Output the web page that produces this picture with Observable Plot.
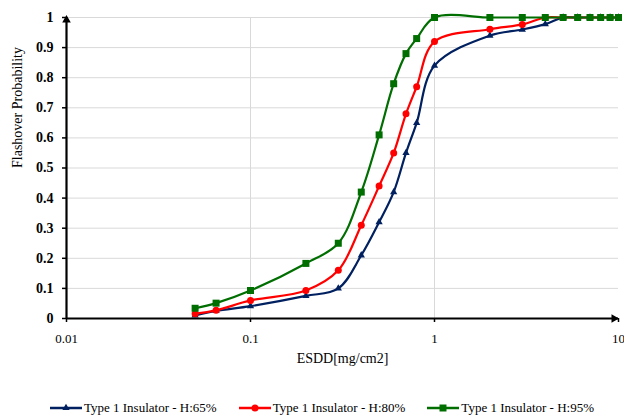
<!DOCTYPE html>
<html>
<head>
<meta charset="utf-8">
<script src="https://cdn.jsdelivr.net/npm/d3@7"></script>
<script src="https://cdn.jsdelivr.net/npm/@observablehq/plot@0.6"></script>
<style>
  html, body { margin: 0; padding: 0; background: #fff; }
  #wrap { position: relative; width: 624px; height: 420px; overflow: hidden; font-family: "Liberation Serif", Tinos, "Times New Roman", Times, "DejaVu Serif", serif; }
  #legend { position: absolute; left: 10px; top: 399px; width: 624px; height: 18px; display: flex; justify-content: center; align-items: center; gap: 22px; font-size: 13px; color: #000; }
  .item { display: flex; align-items: center; gap: 2px; white-space: nowrap; }
</style>
</head>
<body>
<div id="wrap"><div id="chart"></div><div id="legend"></div></div>
<script>
// ESDD values (mg/cm2)
const esdd = [0.05, 0.065, 0.1, 0.2, 0.3, 0.4, 0.5, 0.6, 0.7, 0.8, 1, 2, 3, 4, 5, 6, 7, 8, 9, 10];
// Flashover probability per series
const h65 = [0.01, 0.025, 0.041, 0.075, 0.10, 0.21, 0.32, 0.42, 0.55, 0.65, 0.84, 0.94, 0.96, 0.978, 1, 1, 1, 1, 1, 1];
const h80 = [0.016, 0.027, 0.06, 0.093, 0.16, 0.31, 0.44, 0.55, 0.68, 0.77, 0.92, 0.961, 0.977, 1, 1, 1, 1, 1, 1, 1];
const h95 = [0.034, 0.051, 0.093, 0.183, 0.25, 0.42, 0.61, 0.78, 0.88, 0.93, 1, 1, 1, 1, 1, 1, 1, 1, 1, 1];
const seriesNames = ["Type 1 Insulator - H:65%", "Type 1 Insulator - H:80%", "Type 1 Insulator - H:95%"];
const seriesColors = ["#002060", "#ff0000", "#006e00"];
const seriesSymbols = ["triangle", "circle", "square"];
const yTicks = [0, 0.1, 0.2, 0.3, 0.4, 0.5, 0.6, 0.7, 0.8, 0.9, 1];
const xTicks = [0.01, 0.1, 1, 10];
const xTickLabels = ["0.01", "0.1", "1", "10"];
const xGrid = [0.1, 1];
const xTitle = "ESDD[mg/cm2]";
const yTitle = "Flashover Probability";

const FONT = "'Liberation Serif', Tinos, 'Times New Roman', Times, 'DejaVu Serif', serif";
const symbolR = {triangle: 2.7, circle: 3.5, square: 3.95};
const seriesVals = [h65, h80, h95];
const data = seriesVals.flatMap((vals, s) => esdd.map((x, i) => ({x, y: vals[i], s})));

const marks = [
  Plot.ruleY(yTicks.slice(1), {stroke: "#d9d9d9", strokeWidth: 1}),
  Plot.ruleX(xGrid, {stroke: "#d9d9d9", strokeWidth: 1}),
  Plot.axisY({ticks: yTicks, tickFormat: d => (d === 0 || d === 1) ? String(d) : d.toFixed(1),
    tickSize: 4, tickPadding: 9, fontWeight: "bold", fontSize: 14, fontFamily: FONT, label: null, strokeWidth: 1.5}),
  Plot.axisX({ticks: xTicks, tickFormat: (d) => xTickLabels[xTicks.indexOf(d)],
    tickSize: 4, tickPadding: 11, fontSize: 13, fontFamily: FONT, label: null, strokeWidth: 1.5}),
];
seriesVals.forEach((vals, s) => {
  const d = data.filter(r => r.s === s);
  marks.push(Plot.line(d, {x: "x", y: "y", stroke: seriesColors[s], strokeWidth: 2.2, curve: "catmull-rom"}));
  marks.push(Plot.dot(d, {x: "x", y: "y", fill: seriesColors[s], stroke: "none", symbol: seriesSymbols[s], r: symbolR[seriesSymbols[s]]}));
});
marks.push(
  Plot.ruleY([0], {stroke: "#000", strokeWidth: 2.2}),
  Plot.ruleX([0.01], {stroke: "#000", strokeWidth: 2.2}),
  Plot.dot([{x: 10, y: 0}], {x: "x", y: "y", symbol: "triangle", r: 3.2, fill: "#000", rotate: 90, dx: -4.5}),
  Plot.dot([{x: 0.01, y: 1}], {x: "x", y: "y", symbol: "triangle", r: 3.2, fill: "#000", dy: 2.5}),
  Plot.text([xTitle], {frameAnchor: "bottom", dy: 44, fontSize: 14, fontFamily: FONT, text: d => d}),
  Plot.text([yTitle], {frameAnchor: "left", dx: -49, rotate: -90, fontSize: 14, fontFamily: FONT, text: d => d})
);

const chart = Plot.plot({
  width: 624,
  height: 385,
  marginLeft: 66,
  marginRight: 6,
  marginTop: 17,
  marginBottom: 67,
  x: {type: "log", domain: [0.01, 10]},
  y: {domain: [0, 1]},
  style: {fontFamily: FONT, fontSize: "13px", color: "#000", background: "#fff", overflow: "visible"},
  marks
});
document.getElementById("chart").appendChild(chart);

// Legend
const legend = document.getElementById("legend");
const symMap = {triangle: d3.symbolTriangle, circle: d3.symbolCircle, square: d3.symbolSquare};
seriesNames.forEach((name, s) => {
  const item = document.createElement("div");
  item.className = "item";
  const svg = d3.create("svg").attr("width", 32).attr("height", 12);
  svg.append("line").attr("x1", 0).attr("x2", 32).attr("y1", 6).attr("y2", 6).attr("stroke", seriesColors[s]).attr("stroke-width", 2.5);
  const rr = symbolR[seriesSymbols[s]];
  svg.append("path").attr("transform", "translate(16,6)").attr("d", d3.symbol(symMap[seriesSymbols[s]], Math.PI * rr * rr)()).attr("fill", seriesColors[s]);
  item.appendChild(svg.node());
  const span = document.createElement("span");
  span.textContent = name;
  item.appendChild(span);
  legend.appendChild(item);
});
</script>
</body>
</html>
